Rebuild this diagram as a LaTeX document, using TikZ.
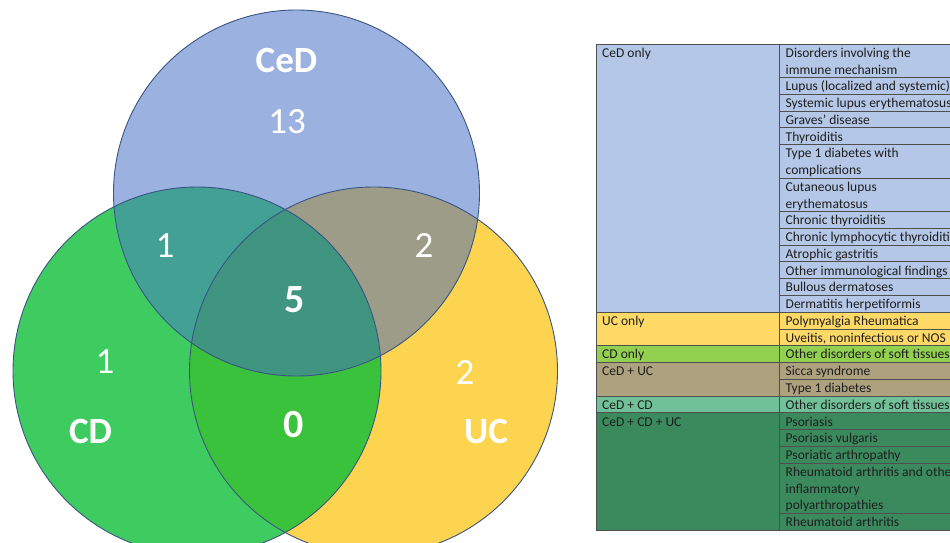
\documentclass[tikz,border=0pt]{standalone}
\usepackage{fontspec}
\setmainfont{Carlito}
\definecolor{cedb}{HTML}{9BB1DF}
\definecolor{cdg}{HTML}{3ECC60}
\definecolor{ucy}{HTML}{FCD44F}
\definecolor{cduc}{HTML}{3BC23C}
\definecolor{cedcd}{HTML}{43A094}
\definecolor{ceduc}{HTML}{9C9C88}
\definecolor{allc}{HTML}{3F9580}
\definecolor{ringc}{HTML}{3A5584}
\definecolor{tced}{HTML}{B4C7E7}
\definecolor{tuc}{HTML}{FFD966}
\definecolor{tcd}{HTML}{92D050}
\definecolor{tceduc}{HTML}{ADA17E}
\definecolor{tcedcd}{HTML}{70C197}
\definecolor{tall}{HTML}{3B8A5E}
\definecolor{gridc}{HTML}{4F4F4F}
\definecolor{txt}{HTML}{1E1E1E}
\begin{document}
\begin{tikzpicture}[x=1pt,y=-1pt,
  vlbl/.style={text=white,inner sep=0pt,anchor=base},
  vbig/.style={font=\bfseries\fontsize{37}{37}\selectfont},
  vnum/.style={font=\fontsize{37}{37}\selectfont},
  vnumb/.style={font=\bfseries\fontsize{40}{40}\selectfont},
  cell/.style={anchor=base west,inner sep=0pt,text=txt,font=\fontsize{13.5}{16.76}\selectfont},
  grid/.style={draw=gridc,line width=0.8pt},
  ring/.style={draw=ringc,line width=0.9pt}]
\useasboundingbox (0,0) rectangle (950,543);
\clip (0,0) rectangle (950,543);
\def\cedC{(296.5,193) circle[radius=183pt]}
\def\cdC{(197,371) circle[radius=184pt]}
\def\ucC{(373.5,371) circle[radius=184pt]}
% Venn regions
\fill[cdg] \cdC;
\fill[ucy] \ucC;
\begin{scope}\clip \cdC; \fill[cduc] \ucC;\end{scope}
\fill[cedb] \cedC;
\begin{scope}\clip \cedC; \fill[cedcd] \cdC;\end{scope}
\begin{scope}\clip \cedC; \fill[ceduc] \ucC;\end{scope}
\begin{scope}\clip \cedC; \clip \cdC; \fill[allc] \ucC;\end{scope}
\draw[ring] \cdC;
\draw[ring] \ucC;
\draw[ring] \cedC;
% Venn labels
\node[vlbl,vbig] (lced) at (286.5,72) {CeD};
\node[vlbl,vnum] (n13) at (287,133) {13};
\node[vlbl,vnum] (ncedcd) at (165,257) {1};
\node[vlbl,vnum] (nceduc) at (424,257) {2};
\node[vlbl,vnumb] (nall) at (295,312) {5};
\node[vlbl,vnum] (ncd) at (105,373) {1};
\node[vlbl,vbig] (lcd) at (90.5,443) {CD};
\node[vlbl,vnumb] (ncduc) at (294,437) {0};
\node[vlbl,vnum] (nuc) at (465,384) {2};
\node[vlbl,vbig] (luc) at (486,443) {UC};
% Table fills
\def\L{16.76}
\def\T{44}
\fill[tced] (596,\T) rectangle (1000,{\T+16*\L});
\fill[tuc] (596,{\T+16*\L}) rectangle (1000,{\T+18*\L});
\fill[tcd] (596,{\T+18*\L}) rectangle (1000,{\T+19*\L});
\fill[tceduc] (596,{\T+19*\L}) rectangle (1000,{\T+21*\L});
\fill[tcedcd] (596,{\T+21*\L}) rectangle (1000,{\T+22*\L});
\fill[tall] (596,{\T+22*\L}) rectangle (1000,{\T+29*\L});
% grid
\foreach \r in {2,3,4,5,6,8,10,11,12,13,14,15,17,20,23,24,25,28}
  \draw[grid] (779,{\T+\r*\L}) -- (1000,{\T+\r*\L});
\foreach \r in {16,18,19,21,22}
  \draw[grid] (596,{\T+\r*\L}) -- (1000,{\T+\r*\L});
\draw[grid] (596,\T) rectangle (1000,{\T+29*\L});
\draw[grid] (779,\T) -- (779,{\T+29*\L});
% left column labels
\node[cell] (gced) at (602,{\T+13.3}) {CeD only};
\node[cell] (guc) at (602,{\T+16*\L+13.3}) {UC only};
\node[cell] (gcd) at (602,{\T+18*\L+13.3}) {CD only};
\node[cell] (gceduc) at (602,{\T+19*\L+13.3}) {CeD + UC};
\node[cell] (gcedcd) at (602,{\T+21*\L+13.3}) {CeD + CD};
\node[cell] (gall) at (602,{\T+22*\L+13.3}) {CeD + CD + UC};
% right column entries
\foreach \i/\t in {0/Disorders involving the,1/immune mechanism,2/Lupus (localized and systemic),3/Systemic lupus erythematosus,4/Graves' disease,5/Thyroiditis,6/Type 1 diabetes with,7/complications,8/Cutaneous lupus,9/erythematosus,10/Chronic thyroiditis,11/Chronic lymphocytic thyroiditis,12/Atrophic gastritis,13/Other immunological findings,14/Bullous dermatoses,15/Dermatitis herpetiformis,16/Polymyalgia Rheumatica,17/{Uveitis, noninfectious or NOS},18/Other disorders of soft tissues,19/Sicca syndrome,20/Type 1 diabetes,21/Other disorders of soft tissues,22/Psoriasis,23/Psoriasis vulgaris,24/Psoriatic arthropathy,25/Rheumatoid arthritis and other,26/inflammatory,27/polyarthropathies,28/Rheumatoid arthritis}
  \node[cell] (e\i) at (785.5,{\T+\i*\L+13.3}) {\t};
\end{tikzpicture}
\end{document}
